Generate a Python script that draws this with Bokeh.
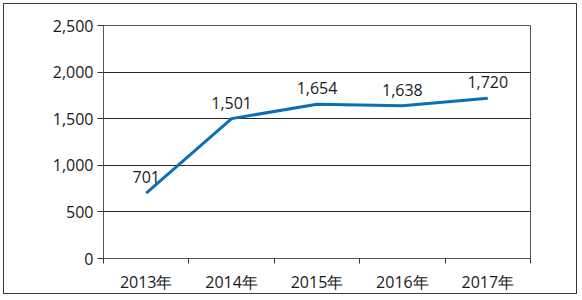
from bokeh.plotting import figure
from bokeh.models import Range1d, FixedTicker, ColumnDataSource, NumeralTickFormatter
from bokeh.core.properties import value
from bokeh.embed import file_html
from bokeh.resources import INLINE

categories = ["2013年", "2014年", "2015年", "2016年", "2017年"]
values = [701, 1501, 1654, 1638, 1720]
value_labels = ["701", "1,501", "1,654", "1,638", "1,720"]
y_ticks = [0, 500, 1000, 1500, 2000, 2500]

xs = [i + 0.5 for i in range(len(categories))]
src = ColumnDataSource(dict(x=xs, y=values, lab=value_labels))

FONT = "Open Sans"
TXT = "#1a1a1a"

p = figure(width=574, height=291, output_backend="svg", toolbar_location=None,
           x_range=Range1d(0, len(categories)), y_range=Range1d(0, 2500),
           min_border_left=99, min_border_right=48, min_border_top=21, min_border_bottom=37)
p.styles = {"margin-left": "3px", "margin-top": "3px", "border": "1px solid #3a3a3a"}
p.background_fill_color = "white"
p.border_fill_color = "white"
p.outline_line_color = "#555555"
p.outline_line_width = 1

# y axis
p.yaxis.ticker = FixedTicker(ticks=y_ticks)
p.yaxis.formatter = NumeralTickFormatter(format="0,0")
p.yaxis.axis_line_color = "#555555"
p.yaxis.major_tick_in = 0
p.yaxis.major_tick_out = 6
p.yaxis.major_tick_line_color = "#333333"
p.yaxis.minor_tick_line_color = None
p.yaxis.major_label_text_font = FONT
p.yaxis.major_label_text_font_size = "16px"
p.yaxis.major_label_text_color = TXT
p.yaxis.major_label_standoff = 4

# x axis
p.xaxis.ticker = FixedTicker(ticks=xs, minor_ticks=list(range(len(categories) + 1)))
p.xaxis.major_label_overrides = {x: c for x, c in zip(xs, categories)}
p.xaxis.major_tick_line_color = None
p.xaxis.minor_tick_in = 0
p.xaxis.minor_tick_out = 5
p.xaxis.minor_tick_line_color = "#333333"
p.xaxis.axis_line_color = "#555555"
p.xaxis.major_label_text_font = FONT
p.xaxis.major_label_text_font_size = "16px"
p.xaxis.major_label_text_color = TXT
p.xaxis.major_label_standoff = 6

p.xgrid.grid_line_color = None
p.ygrid.ticker = FixedTicker(ticks=y_ticks)
p.ygrid.grid_line_color = "#2a2a2a"
p.ygrid.grid_line_width = 1

p.line("x", "y", source=src, line_color="#0a6fb5", line_width=3)
p.text("x", "y", text="lab", source=src, text_font=value(FONT), text_font_size="16px",
       text_color=TXT, text_align="center", text_baseline="middle", y_offset=-16)

open("out.html", "w").write(file_html(p, INLINE))
